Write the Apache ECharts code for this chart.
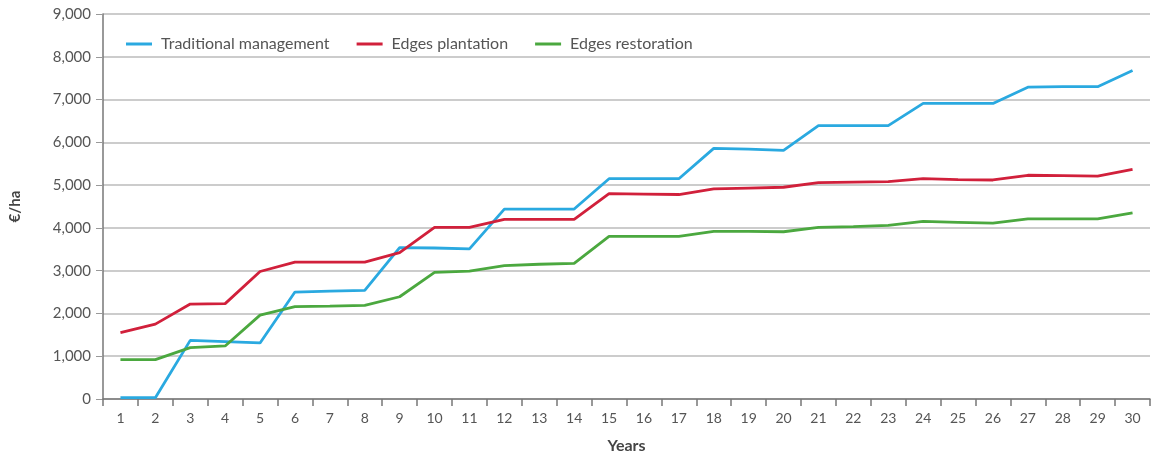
<!DOCTYPE html>
<html><head><meta charset="utf-8">
<script src="https://cdn.jsdelivr.net/npm/echarts@6/dist/echarts.min.js"></script>
<style>html,body{margin:0;padding:0;background:#fff}#c{width:1152px;height:455px}</style>
</head><body><div id="c"></div>
<script>
const years = Array.from({length:30},(_,i)=>String(i+1));
const traditional = [30,30,1370,1340,1310,2500,2520,2540,3540,3530,3510,4440,4440,4440,5150,5150,5150,5860,5840,5810,6390,6390,6390,6910,6910,6910,7290,7300,7300,7680];
const plantation = [1550,1750,2220,2230,2980,3200,3200,3200,3420,4010,4010,4200,4200,4200,4800,4790,4780,4910,4930,4950,5060,5070,5080,5150,5130,5120,5230,5220,5210,5370];
const restoration = [920,920,1200,1240,1960,2160,2170,2190,2390,2960,2990,3120,3150,3170,3800,3800,3800,3920,3920,3910,4010,4030,4060,4150,4130,4110,4210,4210,4210,4350];
const seriesNames = ['Traditional management','Edges plantation','Edges restoration'];
const colors = ['#2aa9e0','#d1203b','#4ba83f'];
const font = 'Lato, "Open Sans", sans-serif';
const chart = echarts.init(document.getElementById('c'));
chart.setOption({
  animation:false,
  color:colors,
  textStyle:{fontFamily:font},
  grid:{left:103,right:2,top:14,bottom:56,containLabel:false,outerBoundsMode:'none'},
  legend:{left:121,top:31,itemWidth:26,itemHeight:3,itemGap:27,icon:'rect',
    textStyle:{color:'#555',fontSize:16,fontFamily:font,padding:[0,0,0,4]},data:seriesNames},
  xAxis:{type:'category',data:years,boundaryGap:true,
    name:'Years',nameLocation:'middle',nameGap:39,
    nameTextStyle:{fontWeight:'bold',fontSize:16,color:'#444',fontFamily:font},
    axisLine:{lineStyle:{color:'#777',width:1.5}},
    axisTick:{show:true,length:7,lineStyle:{color:'#777',width:1.5}},
    axisLabel:{color:'#555',fontSize:14,margin:12,fontFamily:font}},
  yAxis:{type:'value',min:0,max:9000,interval:1000,
    name:'€/ha',nameLocation:'middle',nameGap:80,nameRotate:90,
    nameTextStyle:{fontWeight:'bold',fontSize:15,color:'#444',fontFamily:font},
    axisLine:{show:true,lineStyle:{color:'#777',width:1.5}},
    axisTick:{show:true,length:7,lineStyle:{color:'#999'}},
    axisLabel:{color:'#555',fontSize:15,margin:12,fontFamily:font,
      formatter:v=>v.toLocaleString('en-US')},
    splitLine:{lineStyle:{color:'#bbb',width:1.5}}},
  series:[
    {name:seriesNames[0],type:'line',data:traditional,symbol:'none',lineStyle:{width:2.8}},
    {name:seriesNames[1],type:'line',data:plantation,symbol:'none',lineStyle:{width:2.8}},
    {name:seriesNames[2],type:'line',data:restoration,symbol:'none',lineStyle:{width:2.8}}
  ]
});
</script></body></html>
